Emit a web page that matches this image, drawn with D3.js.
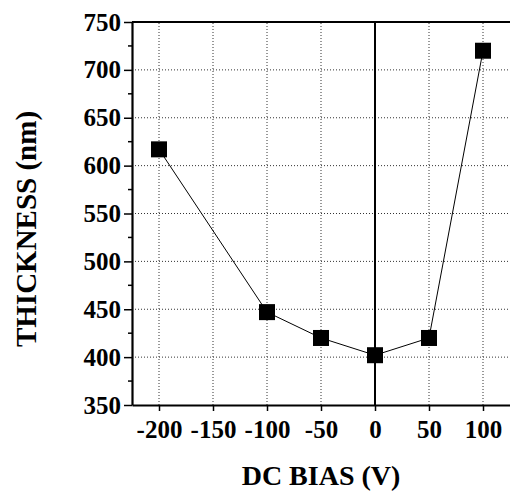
<!DOCTYPE html>
<html>
<head>
<meta charset="utf-8">
<script src="https://cdn.jsdelivr.net/npm/d3@7"></script>
<style>
  html, body { margin: 0; padding: 0; background: #fff; }
  svg { display: block; }
  svg text { font-family: "Liberation Serif", "Times New Roman", Times, "DejaVu Serif", serif !important; font-weight: bold; }
</style>
</head>
<body>
<svg id="chart" width="510" height="491"></svg>
<script>
// DC bias (V) vs film thickness (nm)
const biasValues = [-200, -100, -50, 0, 50, 100];
const thicknessValues = [617, 447, 420, 402, 420, 720];
const xTicks = [-200, -150, -100, -50, 0, 50, 100];
const yTicks = [350, 400, 450, 500, 550, 600, 650, 700, 750];
const yMinorTicks = [375, 425, 475, 525, 575, 625, 675, 725];

const svg = d3.select("#chart");
const margin = { left: 132, right: 0, top: 22, bottom: 86 };
const W = 510, H = 491;

const x = d3.scaleLinear().domain([-225, 125]).range([margin.left, W - margin.right]);
const y = d3.scaleLinear().domain([350, 750]).range([H - margin.bottom, margin.top]);

// dotted grid
const grid = svg.append("g").attr("stroke", "#333").attr("stroke-width", 1).attr("stroke-dasharray", "1,2");
grid.selectAll(".gx").data(xTicks).join("line")
  .attr("x1", d => x(d)).attr("x2", d => x(d))
  .attr("y1", y(350)).attr("y2", y(750));
grid.selectAll(".gy").data(yTicks.slice(1, -1)).join("line")
  .attr("x1", x(-225)).attr("x2", x(125))
  .attr("y1", d => y(d)).attr("y2", d => y(d));

// frame: top edge and zero line
svg.append("line").attr("x1", x(-225)).attr("x2", W).attr("y1", y(750)).attr("y2", y(750))
  .attr("stroke", "#000").attr("stroke-width", 2);
svg.append("line").attr("x1", x(0)).attr("x2", x(0)).attr("y1", y(750)).attr("y2", y(350))
  .attr("stroke", "#000").attr("stroke-width", 2);

// x axis
const xAxis = svg.append("g").attr("transform", `translate(0,${y(350)})`)
  .call(d3.axisBottom(x).tickValues(xTicks).tickSize(6).tickPadding(9).tickSizeOuter(0).tickFormat(d => String(d)));
xAxis.attr("font-family", null);
xAxis.select(".domain").attr("stroke-width", 2.2);
xAxis.selectAll(".tick line").attr("stroke-width", 1.5);
xAxis.selectAll(".tick text").attr("font-size", 25).attr("fill", "#000");

// y axis
const yAxis = svg.append("g").attr("transform", `translate(${x(-225)},0)`)
  .call(d3.axisLeft(y).tickValues(yTicks).tickSize(8).tickPadding(3).tickSizeOuter(0).tickFormat(d => String(d)));
yAxis.attr("font-family", null);
yAxis.select(".domain").attr("stroke-width", 2.2);
yAxis.selectAll(".tick line").attr("stroke-width", 1.5);
yAxis.selectAll(".tick text").attr("font-size", 25).attr("fill", "#000");
yAxis.selectAll(".minor").data(yMinorTicks).join("line")
  .attr("x1", 0).attr("x2", -4).attr("y1", d => y(d)).attr("y2", d => y(d))
  .attr("stroke", "#000").attr("stroke-width", 1.5);

// data line
const line = d3.line().x((d, i) => x(biasValues[i])).y(d => y(d));
svg.append("path").datum(thicknessValues).attr("d", line)
  .attr("fill", "none").attr("stroke", "#000").attr("stroke-width", 1);

// square markers
const s = 16;
svg.selectAll(".pt").data(thicknessValues).join("rect")
  .attr("x", (d, i) => x(biasValues[i]) - s / 2)
  .attr("y", d => y(d) - s / 2)
  .attr("width", s).attr("height", s).attr("fill", "#000");

// axis titles
svg.append("text").attr("x", 321).attr("y", 485).attr("text-anchor", "middle")
  .attr("font-size", 28)
  .text("DC BIAS (V)");
svg.append("text").attr("transform", `translate(36,229) rotate(-90)`)
  .attr("text-anchor", "middle")
  .attr("font-size", 29)
  .text("THICKNESS (nm)");
</script>
</body>
</html>
